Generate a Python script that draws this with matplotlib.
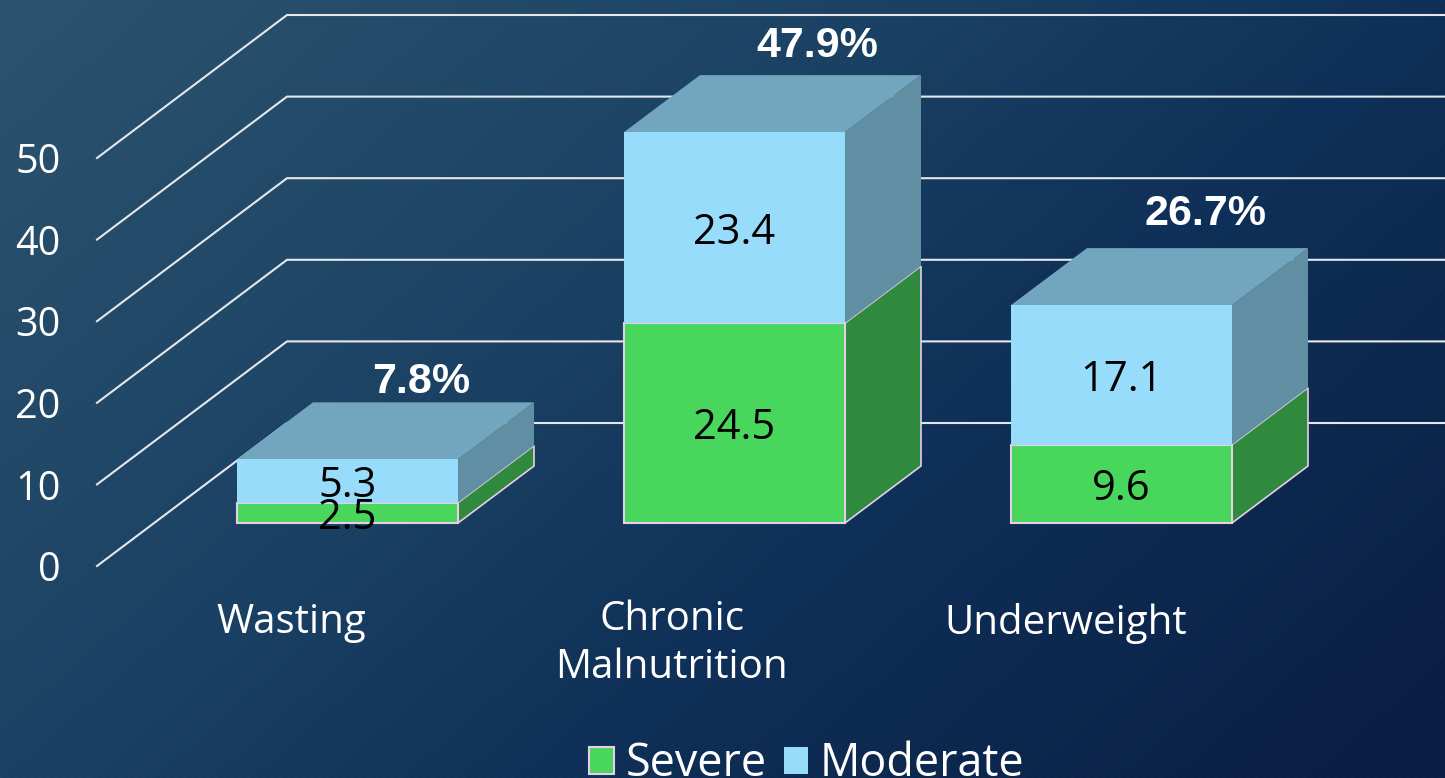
import numpy as np
import matplotlib
matplotlib.use("Agg")
import matplotlib.pyplot as plt
from matplotlib.patches import Polygon, Patch

# ---- data ----
categories = ["Wasting", "Chronic\nMalnutrition", "Underweight"]
severe = [2.5, 24.5, 9.6]
moderate = [5.3, 23.4, 17.1]
totals = ["7.8%", "47.9%", "26.7%"]
y_ticks = [0, 10, 20, 30, 40, 50]
series_names = ["Severe", "Moderate"]

# ---- style ----
W, H = 1445, 778
PX_X = 387.0            # pixels per category
PX_Y = 8.16             # pixels per value unit
X0_PX, Y0_PX = 347.5, 566.0
BAR_W = 221 / PX_X
BASE = 43 / PX_Y        # front floor offset of bars
DX, DY = 76 / PX_X, 57 / PX_Y   # bar depth
WALL_X0, WALL_DX, WALL_DY = (97 - X0_PX) / PX_X, 190 / PX_X, 143 / PX_Y
C_SEV, C_SEV_SIDE, C_SEV_EDGE = "#48D75C", "#2F8A3E", "#E8CDE8"
C_MOD, C_MOD_TOP, C_MOD_SIDE = "#97DCFA", "#72A6BE", "#608FA3"
FONT = "Open Sans"

fig = plt.figure(figsize=(W / 100, H / 100), dpi=100)
ax = fig.add_axes([0, 0, 1, 1])
xlim = (-X0_PX / PX_X, (W - X0_PX) / PX_X)
ylim = ((Y0_PX - H) / PX_Y, Y0_PX / PX_Y)

# background: diagonal gradient with fine diagonal stripes
yy, xx = np.mgrid[0:H, 0:W]
t = np.clip((xx / W * 0.62 + yy / H * 0.38), 0, 1)
stops_t = [0.0, 0.38, 0.62, 1.0]
stops = np.array([[44, 84, 110], [27, 66, 100], [15, 48, 88], [10, 29, 66]], float)
rgb = np.stack([np.interp(t, stops_t, stops[:, k]) for k in range(3)], axis=-1)
stripe = (np.mod(xx + yy, 8) < 4) * 2.0
img = np.clip(rgb - 1.0 + stripe[..., None], 0, 255).astype(np.uint8)
ax.imshow(img, extent=(*xlim, *ylim), origin="upper", aspect="auto", zorder=0,
          interpolation="nearest")

# walls
for v in y_ticks:
    ax.plot([WALL_X0, WALL_X0 + WALL_DX, xlim[1]],
            [v, v + WALL_DY, v + WALL_DY],
            color="#E4E8EC", lw=1.5, zorder=1, solid_joinstyle="miter")

# bars
x = np.arange(len(categories))
sev = np.array(severe)
mod = np.array(moderate)
ax.bar(x, sev, BAR_W, bottom=BASE, color=C_SEV, edgecolor=C_SEV_EDGE, linewidth=1.5, zorder=4)
ax.bar(x, mod, BAR_W, bottom=BASE + sev, color=C_MOD, linewidth=0, zorder=4)

for xi, s, m in zip(x, sev, mod):
    r = xi + BAR_W / 2
    l = xi - BAR_W / 2
    y1 = BASE + s
    y2 = y1 + m
    ax.add_patch(Polygon([(r, BASE), (r + DX, BASE + DY), (r + DX, y1 + DY), (r, y1)],
                         fc=C_SEV_SIDE, ec=C_SEV_EDGE, lw=1.2, zorder=3))
    ax.add_patch(Polygon([(r, y1), (r + DX, y1 + DY), (r + DX, y2 + DY), (r, y2)],
                         fc=C_MOD_SIDE, ec="none", zorder=3))
    ax.add_patch(Polygon([(l, y2), (r, y2), (r + DX, y2 + DY), (l + DX, y2 + DY)],
                         fc=C_MOD_TOP, ec="none", zorder=3))
    ax.text(xi, BASE + s / 2, f"{s}", ha="center", va="center_baseline", fontsize=30,
            color="black", family=FONT, zorder=6)
    ax.text(xi, y1 + m / 2, f"{m}", ha="center", va="center_baseline", fontsize=30,
            color="black", family=FONT, zorder=6)

# total labels
lift = [82 / PX_Y, 91 / PX_Y, 96 / PX_Y]
shift = [74 / PX_X, 83 / PX_X, 84 / PX_X]
for xi, s, m, lab, up, sh in zip(x, sev, mod, totals, lift, shift):
    ax.text(xi + sh, BASE + s + m + up, lab, ha="center", va="center_baseline",
            fontsize=31, fontweight="bold", color="white", family="Liberation Sans", zorder=6)

# y axis labels
ax.set_xlim(*xlim)
ax.set_ylim(*ylim)
ax.set_yticks(y_ticks)
ax.set_xticks([])
ax.tick_params(axis="y", length=0, pad=-43.5, labelcolor="white", labelsize=28.5)
for lb in ax.get_yticklabels():
    lb.set_family(FONT)
    lb.set_ha("right")
for sp in ax.spines.values():
    sp.set_visible(False)

# category labels
label_shift = [-56 / PX_X, -63 / PX_X, -56 / PX_X]
for xi, lab, sh in zip(x, categories, label_shift):
    ypx = 644 if "\n" in lab else 623
    ax.text(xi + sh, (Y0_PX - ypx) / PX_Y, lab, ha="center", va="center", fontsize=29,
            color="white", family=FONT, linespacing=1.25, zorder=6)

# legend
handles = [Patch(fc=C_SEV, ec=C_SEV_EDGE, lw=1.5), Patch(fc=C_MOD, ec="none")]
ax.legend(handles, series_names, loc="lower center", bbox_to_anchor=(807 / W, -0.012), ncol=2,
          frameon=False, prop={"family": FONT, "size": 32.3}, labelcolor="white",
          handlelength=0.55, handleheight=0.55, handletextpad=0.26, columnspacing=0.37,
          borderpad=0, borderaxespad=0)

fig.savefig("out.png", dpi=100)
